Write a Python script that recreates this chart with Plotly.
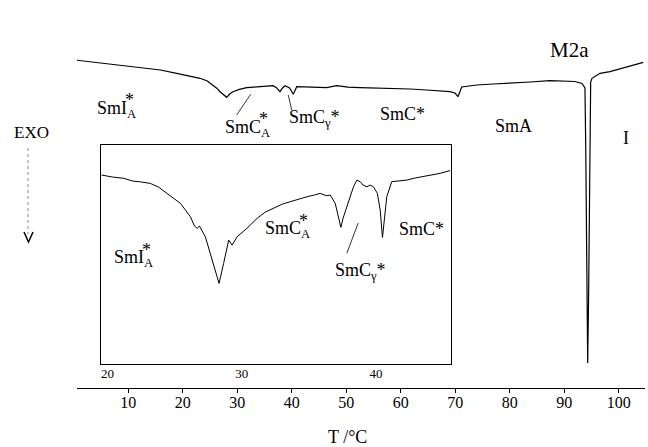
import plotly.graph_objects as go

W, H = 648, 447
FONT = "Liberation Serif"

# DSC cooling trace of M2a, heat flow in arbitrary units (exo down)
temp_main = [0.22, 3.5, 6.64, 9.8, 12.75, 15.9, 18.88, 21.2, 23.16, 24.5, 25.54, 26.3,
             26.83, 27.5, 28.06, 28.6, 29.21, 30.4, 31.73, 33.0, 34.17, 35.5, 36.56,
             37.2, 37.84, 38.3, 38.76, 39.6, 40.28, 40.91, 43.5, 46.41, 48.25, 50.3,
             52.52, 55.6, 58.58, 61.7, 64.76, 67.0, 69.04, 69.96, 70.51, 71.19, 73.94,
             77.0, 80.05, 83.8, 87.39, 89.8, 91.98, 93.26, 93.81, 93.96, 94.14, 94.31,
             94.47, 94.73, 94.86, 95.1, 96.57, 98.4, 100.0, 101.47, 103.0, 104.51]
flow_main = [-1.00, -1.10, -1.20, -1.28, -1.385, -1.50, -1.665, -1.78, -1.915, -2.05,
             -2.25, -2.42, -2.585, -2.75, -2.865, -2.70, -2.585, -2.47, -2.385, -2.36,
             -2.335, -2.31, -2.285, -2.38, -2.585, -2.40, -2.285, -2.40, -2.715, -2.335,
             -2.36, -2.385, -2.285, -2.36, -2.385, -2.40, -2.415, -2.45, -2.50, -2.53,
             -2.585, -2.65, -2.835, -2.35, -2.25, -2.20, -2.165, -2.10, -2.035, -2.05,
             -2.075, -2.175, -2.40, -5.5, -13.0, -16.15, -13.0, -5.5, -2.10, -1.915,
             -1.665, -1.585, -1.46, -1.335, -1.22, -1.115]

# magnified part of the same scan, 20-45 °C
temp_zoom = [19.56, 20.38, 21.22, 21.87, 22.46, 23.2, 23.8, 24.45, 25.43, 26.18, 26.48,
             26.68, 26.85, 27.29, 27.79, 28.31, 28.65, 29.03, 29.28, 29.65, 30.39, 31.14,
             31.75, 32.37, 33.02, 33.61, 34.21, 34.86, 35.4, 35.84, 36.29, 36.59, 36.96,
             37.18, 37.38, 37.55, 37.83, 38.07, 38.32, 38.57, 38.82, 39.04, 39.32, 39.56,
             39.81, 40.1, 40.31, 40.48, 40.64, 40.8, 41.17, 41.72, 42.29, 42.91, 43.52,
             44.17, 44.77, 45.51]
flow_zoom = [-2.1875, -2.2, -2.208, -2.225, -2.23, -2.24, -2.2625, -2.302, -2.364, -2.448,
             -2.506, -2.52, -2.506, -2.573, -2.719, -2.864, -2.739, -2.594, -2.625, -2.573,
             -2.52, -2.458, -2.419, -2.396, -2.369, -2.354, -2.338, -2.323, -2.3125, -2.302,
             -2.316, -2.3125, -2.364, -2.4375, -2.514, -2.456, -2.386, -2.319, -2.261,
             -2.219, -2.229, -2.25, -2.261, -2.25, -2.261, -2.302, -2.406, -2.577, -2.4375,
             -2.323, -2.229, -2.225, -2.219, -2.206, -2.198, -2.1875, -2.177, -2.16]

main_ticks = [10, 20, 30, 40, 50, 60, 70, 80, 90, 100]
zoom_ticks = [20, 30, 40]


def px(x, y):
    """pixel position -> paper coordinates"""
    return x / W, 1 - y / H


fig = go.Figure()
fig.add_trace(go.Scatter(x=temp_main, y=flow_main, mode="lines",
                         line=dict(color="black", width=1.2),
                         xaxis="x", yaxis="y", showlegend=False, hoverinfo="skip"))
fig.add_trace(go.Scatter(x=temp_zoom, y=flow_zoom, mode="lines",
                         line=dict(color="black", width=1),
                         xaxis="x2", yaxis="y2", showlegend=False, hoverinfo="skip"))

annotations = []
LABEL_SIZE = 18


def label(text, x, y, axis="", anchor="left", star=None):
    annotations.append(dict(text=text, x=x, y=y, xref="x" + axis, yref="y" + axis,
                            showarrow=False, xanchor=anchor, yanchor="middle",
                            font=dict(family=FONT, size=LABEL_SIZE, color="black")))
    if star is not None:
        # asterisk stacked above the subscript
        annotations.append(dict(text="*", x=star[0], y=star[1], xref="x" + axis,
                                yref="y" + axis, showarrow=False, xanchor="center",
                                yanchor="middle",
                                font=dict(family=FONT, size=LABEL_SIZE, color="black")))


# phase labels on the full trace
label("SmI<sub>A</sub>", 3.9, -3.45, star=(10.23, -3.0))
label("SmC<sub>A</sub>", 27.43, -4.4, star=(34.86, -3.95))
label("SmC<sub>γ</sub>*", 39.07, -3.9)
label("SmC*", 55.82, -3.7)
label("SmA", 76.93, -4.3)
label("I", 101.28, -4.9, anchor="center")
# phase labels on the magnified trace
label("SmI<sub>A</sub>", 20.36, -2.71, axis="2", star=(22.92, -2.655))
label("SmC<sub>A</sub>", 31.61, -2.53, axis="2", star=(34.62, -2.475))
label("SmC<sub>γ</sub>*", 36.81, -2.79, axis="2")
label("SmC*", 41.55, -2.525, axis="2")

x0, y0 = px(569, 50)
annotations.append(dict(text="M2a", x=x0, y=y0, xref="paper", yref="paper",
                        showarrow=False, xanchor="center", yanchor="middle",
                        font=dict(family=FONT, size=21, color="black")))
x0, y0 = px(31, 132)
annotations.append(dict(text="EXO", x=x0, y=y0, xref="paper", yref="paper",
                        showarrow=False, xanchor="center", yanchor="middle",
                        font=dict(family=FONT, size=17, color="black")))
x0, y0 = px(347, 437)
annotations.append(dict(text="T /°C", x=x0, y=y0, xref="paper", yref="paper",
                        showarrow=False, xanchor="center", yanchor="middle",
                        font=dict(family=FONT, size=18, color="black")))

shapes = [
    # leader lines
    dict(type="line", xref="x", yref="y", x0=32.46, y0=-2.715, x1=29.89, y1=-3.75,
         line=dict(color="black", width=0.8)),
    dict(type="line", xref="x", yref="y", x0=39.36, y0=-2.75, x1=39.99, y1=-3.5,
         line=dict(color="black", width=0.8)),
    dict(type="line", xref="x2", yref="y2", x0=38.67, y0=-2.4875, x1=37.83, y1=-2.675,
         line=dict(color="black", width=0.8)),
]
# EXO direction arrow
sx, sy0 = px(28, 148)
_, sy1 = px(28, 234)
shapes.append(dict(type="line", xref="paper", yref="paper", x0=sx, x1=sx, y0=sy0, y1=sy1,
                   line=dict(color="#8a8a8a", width=1, dash="dot")))
ax0, ay0 = px(24, 232)
ax1, ay1 = px(28.5, 242)
ax2, ay2 = px(33, 232)
shapes.append(dict(type="path", xref="paper", yref="paper",
                   path=f"M {ax0} {ay0} L {ax1} {ay1} L {ax2} {ay2}",
                   line=dict(color="black", width=1.5)))

fig.update_layout(
    width=W, height=H,
    margin=dict(l=0, r=0, t=0, b=0),
    paper_bgcolor="white", plot_bgcolor="rgba(0,0,0,0)",
    showlegend=False,
    annotations=annotations,
    shapes=shapes,
    xaxis=dict(domain=[77 / W, 645 / W], range=[0.585, 104.83], anchor="y",
               showline=True, linecolor="black", linewidth=1.2,
               ticks="outside", ticklen=4, tickcolor="black", tickwidth=1,
               tickvals=main_ticks, showgrid=False, zeroline=False,
               ticklabelstandoff=-4,
               tickfont=dict(family=FONT, size=16, color="black")),
    yaxis=dict(domain=[1 - 388 / H, 1 - 40 / H], range=[-17.4, 0], visible=False),
    xaxis2=dict(domain=[101 / W, 450.7 / W], range=[19.52, 45.56], anchor="y2",
                showline=True, mirror=True, linecolor="black", linewidth=1,
                ticks="", tickvals=zoom_ticks, showgrid=False, zeroline=False,
                ticklabelstandoff=-3,
                tickfont=dict(family=FONT, size=13, color="black")),
    yaxis2=dict(domain=[1 - 364.3 / H, 1 - 145 / H], range=[-3.369, -2.0], anchor="x2",
                showline=True, mirror=True, linecolor="black", linewidth=1,
                showticklabels=False, ticks="", showgrid=False, zeroline=False),
)

fig.write_html("out.html")
